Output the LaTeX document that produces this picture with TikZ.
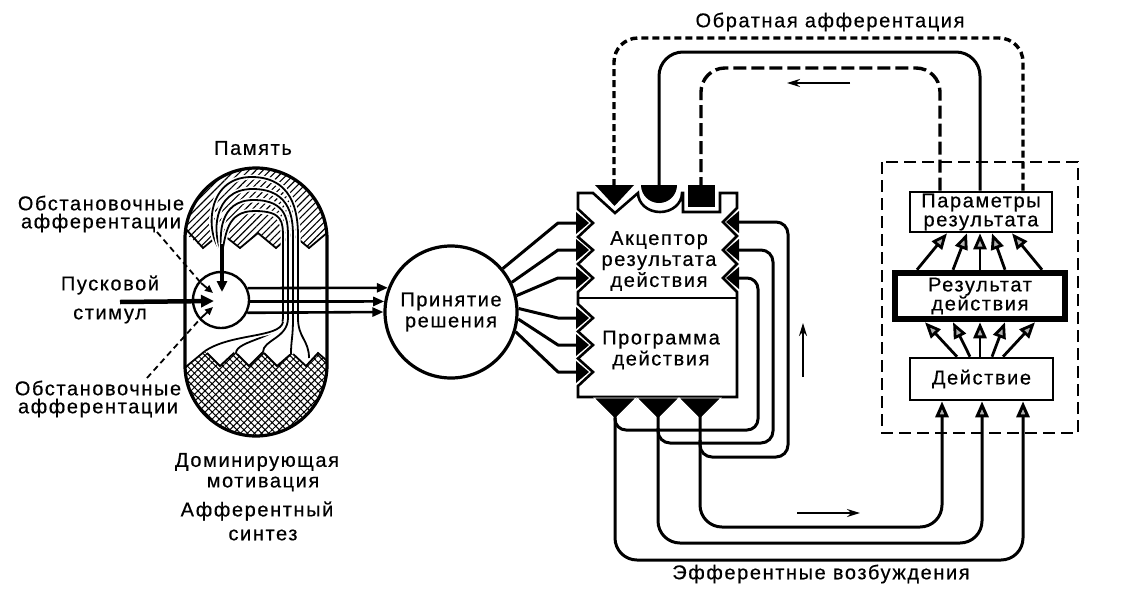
\documentclass[tikz,border=0pt]{standalone}
\usepackage{fontspec}
\setmainfont{Liberation Sans}[LetterSpace=8,FakeBold=0.5]
\usetikzlibrary{arrows.meta,patterns.meta,calc}
\begin{document}
\begin{tikzpicture}[x=1pt,y=-1pt,
 lbl/.style={font=\fontsize{20}{21}\selectfont,align=center,inner sep=0pt},
 conn/.style={line width=3pt,line join=round},
 arr/.style={-{Triangle[length=11pt,width=9pt]}},
 oarr/.style={-{Triangle[fill=gray!60,length=16pt,width=13pt]}},
 darr/.style={line width=1.8pt,-{Stealth[length=13pt,width=8pt]}},
 rbox/.style={draw,line width=2.6pt,fill=white,inner sep=0pt,font=\fontsize{20}{19}\selectfont,align=center},
 dasho/.style={conn,line width=3.4pt,dash pattern=on 7pt off 4pt},
 dashi/.style={conn,line width=3.4pt,dash pattern=on 13pt off 5pt},
 chan/.style={line width=1.8pt},
 halo/.style={white,line width=5pt},
]
\path[use as bounding box] (0,0) rectangle (1129,603);

% ---------- afferent synthesis capsule ----------
\begin{scope}
\clip[rounded corners=71pt] (185,168) rectangle (327,436);
\fill[pattern={Lines[angle=45,distance=5pt,line width=1.1pt]}] (170,150) -- (170,221) -- (203,248) -- (221,233) -- (240,248) -- (258,233) -- (276,248) -- (292,234) -- (309,248) -- (340,222) -- (340,150) -- cycle;
\draw[line width=1.8pt] (175,217) -- (203,248) -- (221,233) -- (240,248) -- (258,233) -- (276,248) -- (292,234) -- (309,248) -- (340,222);
\fill[pattern={Hatch[angle=45,distance=5pt,line width=1pt]}] (170,450) -- (170,380) -- (205,351) -- (220,366) -- (235,352) -- (249,366) -- (263,352) -- (277,366) -- (292,353) -- (306,366) -- (318,353) -- (340,372) -- (340,450) -- cycle;
\draw[line width=1.8pt] (170,380) -- (205,351) -- (220,366) -- (235,352) -- (249,366) -- (263,352) -- (277,366) -- (292,353) -- (306,366) -- (318,353) -- (340,372);
\end{scope}

\foreach \xl/\yt/\xr/\ex/\ey in {205/177/298/309/358, 212/189/293/291/354, 219/200/288/263/352, 226/211/283/236/353} {
 \draw[halo] (222,252) .. controls (\xl,236) and (\xl,\yt) .. ({(\xl+\xr)/2},\yt) .. controls (\xr,\yt) and (\xr,222) .. (\xr,238) -- (\xr,318) .. controls (\xr,338) and (\ex,340) .. (\ex,\ey);
 \draw[chan] (222,252) .. controls (\xl,236) and (\xl,\yt) .. ({(\xl+\xr)/2},\yt) .. controls (\xr,\yt) and (\xr,222) .. (\xr,238) -- (\xr,318) .. controls (\xr,338) and (\ex,340) .. (\ex,\ey);
}
\draw[halo] (283,322) .. controls (280,338) and (232,333) .. (205,351);
\draw[chan] (283,322) .. controls (280,338) and (232,333) .. (205,351);

\draw[line width=3.2pt,rounded corners=71pt] (185,168) rectangle (327,436);

\node[circle,draw,line width=2.4pt,fill=white,minimum size=56pt,inner sep=0pt] (sc) at (221,300) {};

% arrows into the small circle
\coordinate (mem) at (222,244);
\draw[line width=4pt,-{Triangle[length=11pt,width=10pt]}] (mem) -- ($(sc.center)+(1,-8)$);
\coordinate (stim) at (120,302);
\draw[line width=4.5pt,-{Triangle[length=13pt,width=12pt]}] (stim) -- ($(sc.center)+(-7,1)$);
\coordinate (oa1) at (157,232);
\coordinate (oa2) at (147,378);
\draw[line width=1.8pt,dash pattern=on 6pt off 4pt] (oa1) -- (201,283);
\draw[line width=1.8pt,-{Triangle[length=8pt,width=7pt]}] (201,283) -- ($(sc.center)+(-8,-7)$);
\draw[line width=1.8pt,dash pattern=on 6pt off 4pt] (oa2) -- (201,318);
\draw[line width=1.8pt,-{Triangle[length=8pt,width=7pt]}] (201,318) -- ($(sc.center)+(-8,7)$);

% ---------- decision ----------
\node[circle,draw,line width=3.2pt,fill=white,minimum size=132pt,inner sep=0pt,lbl] (dec) at (451,312) {Принятие\\решения};

\draw[line width=2.6pt,arr] (sc.24) -- (dec.159.4);
\draw[line width=2.6pt,arr] (sc.-3) -- (dec.171);
\draw[line width=2.6pt,arr] (sc.-26) -- (dec.180.6);

% ---------- acceptor / program box ----------
\path[draw,fill=white,line width=2.6pt,line join=miter]
 (578,193) -- (593,193) -- (615,213) -- (638,193) arc[start angle=180,end angle=0,x radius=22,y radius=19] -- (683,193) -- (683,212) -- (720,212) -- (720,193) -- (737,193) -- (737,208) -- (723,222) -- (737,236) -- (723,250) -- (737,264) -- (723,278) -- (737,292) -- (737,397) -- (578,397) -- (578,386) -- (593,372) -- (578,358.5) -- (593,345) -- (578,331.5) -- (593,318) -- (578,304) -- (578,292) -- (593,278) -- (578,264) -- (593,250) -- (578,237) -- (593,223) -- (578,209) -- cycle;
\draw[line width=2pt] (578,298) -- (737,298);

\node[lbl] (acc) at (659,261) {Акцептор\\результата\\действия};
\node[lbl] (prg) at (661,350) {Программа\\действия};

% notch keys
\foreach \y [count=\i] in {223,250,278,318,345,372} {
 \coordinate (L\i) at (578,\y);
 \fill (576,\y-11) -- (589,\y) -- (576,\y+11) -- cycle;
}
\foreach \y [count=\i] in {222,250,278} {
 \coordinate (R\i) at (737,\y);
 \fill (739,\y-11) -- (726,\y) -- (739,\y+11) -- cycle;
}
\fill (595,185) -- (634,185) -- (614.5,206) -- cycle;
\fill (641,185) arc[start angle=180,end angle=0,radius=18] -- cycle;
\fill (688,185) rectangle (715,207);
\coordinate (T1) at (614,186);
\coordinate (T2) at (659,186);
\coordinate (T3) at (701,186);

\foreach \x [count=\i] in {615,658,700} {
 \coordinate (B\i) at (\x,416);
 \filldraw[draw=white,line width=0.8pt] (\x-21,398) -- (\x+21,398) -- (\x,419) -- cycle;
}

% decision -> acceptor / program
\foreach \a [count=\i] in {40.7,26.4,14.6,3.4,-6.8,-17.2} {
 \draw[line width=3pt,line join=round] (dec.\a) -- ($(L\i)+(-20,0)$) -- (L\i);
}

% acceptor loops
\draw[conn,rounded corners=12pt] (R1) -- (788,222) -- (788,457) -- (700,457) -- (700,440);
\draw[conn,rounded corners=12pt] (R2) -- (773,250) -- (773,443) -- (658,443) -- (658,428);
\draw[conn,rounded corners=11pt] (R3) -- (758,278) -- (758,430) -- (615,430) -- (615,418);

% ---------- result block ----------
\draw[line width=2.2pt,dash pattern=on 12pt off 6pt] (882,162) rectangle (1078,433);

\node[rbox,minimum width=142pt,minimum height=40pt] (par) at (981,212) {Параметры\\результата};
\node[rbox,line width=6.5pt,minimum width=170pt,minimum height=46pt] (res) at (980,296) {Результат\\действия};
\node[rbox,minimum width=143pt,minimum height=42pt] (act) at (981.5,379) {Действие};

\foreach \a/\b in {-63/-34,-27/-14,0/-1,25/11,62/31}
 \draw[line width=2.8pt,oarr] ([xshift=\a pt]res.north) -- ([xshift=\b pt]par.south);
\foreach \a/\b in {-24.5/-55,-11.5/-27,-1.5/0,10.5/25,21.5/55}
 \draw[line width=2.8pt,oarr] ([xshift=\a pt]act.north) -- ([xshift=\b pt]res.south);

% efferent excitations
\draw[conn,oarr,rounded corners=22pt] (B1) -- (615,560) -- (1023,560) -- ([xshift=41.5pt]act.south);
\draw[conn,oarr,rounded corners=22pt] (B2) -- (658,543) -- (982,543) -- ([xshift=0.5pt]act.south);
\draw[conn,oarr,rounded corners=22pt] (B3) -- (700,527) -- (942,527) -- ([xshift=-39.5pt]act.south);

% back afferentation
\draw[dasho,rounded corners=24pt] ([xshift=42pt]par.north) -- (1023,38) -- (614,38) -- (T1);
\draw[conn,rounded corners=24pt] ([xshift=-1pt]par.north) -- (980,52) -- (659,52) -- (T2);
\draw[dashi,rounded corners=24pt] ([xshift=-41pt]par.north) -- (940,68) -- (701,68) -- (T3);

% direction arrows
\coordinate (d1s) at (850,83); \coordinate (d1e) at (787,83);
\coordinate (d2s) at (803,377); \coordinate (d2e) at (803,323);
\coordinate (d3s) at (797,513); \coordinate (d3e) at (860,513);
\draw[darr] (d1s) -- (d1e);
\draw[darr] (d2s) -- (d2e);
\draw[darr] (d3s) -- (d3e);

% ---------- labels ----------
\node[lbl] (lmem) at (253,148) {Память};
\node[lbl,font=\fontsize{20}{18}\selectfont] (lob1) at (101,214) {Обстановочные\\афферентации};
\node[lbl] (lpu) at (110,285) {Пусковой};
\node[lbl] (lst) at (110,316) {стимул};
\node[lbl,font=\fontsize{20}{18}\selectfont] (lob2) at (98,399) {Обстановочные\\афферентации};
\node[lbl] (ldom) at (257,462) {Доминирующая};
\node[lbl] (lmot) at (263,484) {мотивация};
\node[lbl] (laff) at (257,511) {Афферентный};
\node[lbl] (lsyn) at (263,535) {синтез};
\node[lbl] (lobr) at (830,22) {Обратная афферентация};
\node[lbl] (leff) at (821,574) {Эфферентные возбуждения};
\end{tikzpicture}
\end{document}
